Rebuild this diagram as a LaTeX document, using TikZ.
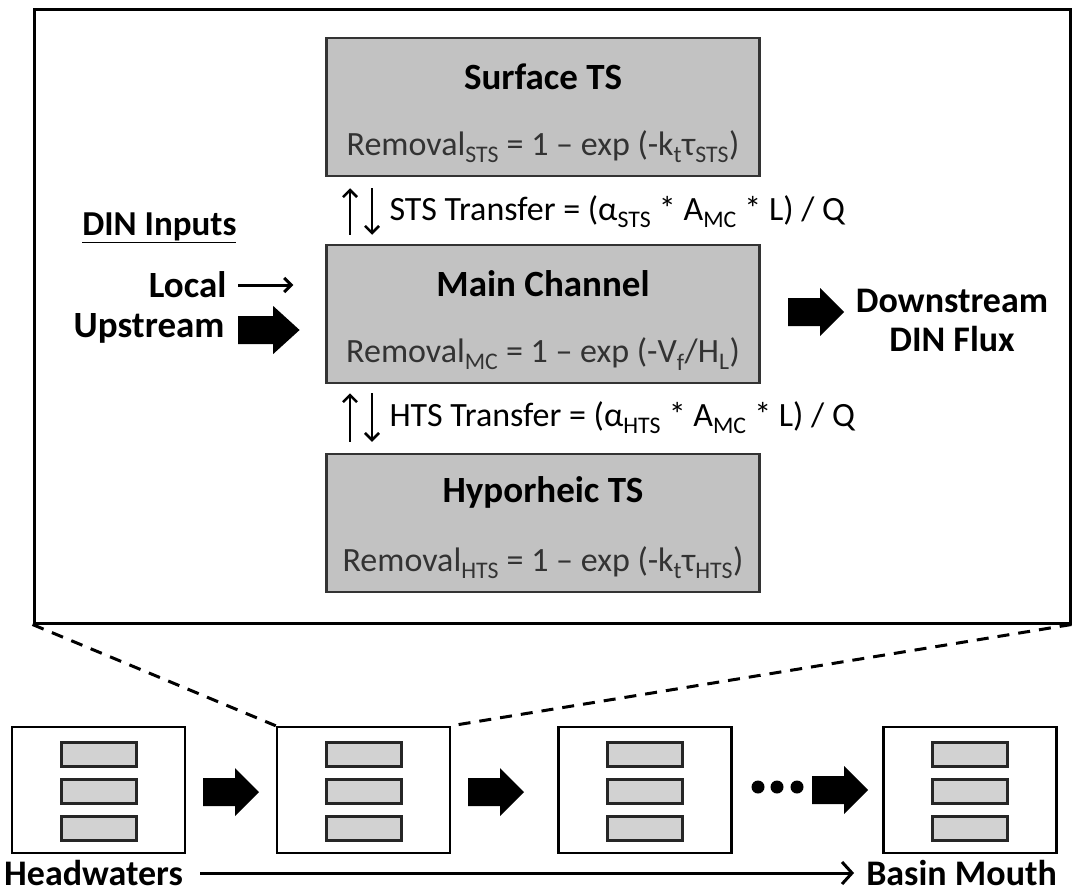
\documentclass[tikz,border=0pt]{standalone}
\usepackage{fontspec}
\setmainfont{Carlito}
\usetikzlibrary{arrows.meta}
\newcommand{\sub}[1]{\textsubscript{#1}}

\begin{document}
\begin{tikzpicture}[x=1pt, y=-1pt,
  zone/.style={draw=black!80, line width=2.5pt, fill=gray!48, minimum width=433pt, minimum height=138pt},
  title/.style={font=\fontsize{37}{40}\selectfont\bfseries},
  eqn/.style={font=\fontsize{34}{38}\selectfont},
  reach/.style={draw, line width=2.5pt, fill=white, minimum width=173pt, minimum height=126pt},
  bar/.style={draw=black!85, line width=3pt, fill=gray!35, minimum width=75pt, minimum height=24pt},
  flux/.style={line width=2.5pt, -{Straight Barb[length=7pt, width=14pt]}},
  fatarrow/.pic={\fill (0,-14) -- (32,-14) -- (32,-24) -- (56,0) -- (32,24) -- (32,14) -- (0,14) -- cycle;}
]
  \useasboundingbox (0,0) rectangle (1077,894);

  % Zoomed reach
  \node[draw, line width=3pt, minimum width=1036pt, minimum height=614pt] (frame) at (552,316) {};

  % Storage zones
  \node[zone] (surf) at (543,107) {};
  \node[zone] (main) at (543,314) {};
  \node[zone] (hyp) at (543,523) {};
  \node[title] (surft) at ([yshift=-40pt]surf.north) {Surface TS};
  \node[eqn, text=black!80] (surfr) at ([yshift=-110pt]surf.north) {Removal\sub{STS} = 1 – exp (-k\sub{t}τ\sub{STS})};
  \node[title] (maint) at ([yshift=-40pt]main.north) {Main Channel};
  \node[eqn, text=black!80] (mainr) at ([yshift=-110pt]main.north) {Removal\sub{MC} = 1 – exp (-V\sub{f}/H\sub{L})};
  \node[title] (hypt) at ([yshift=-40pt]hyp.north) {Hyporheic TS};
  \node[eqn, text=black!80] (hypr) at ([yshift=-110pt]hyp.north) {Removal\sub{HTS} = 1 – exp (-k\sub{t}τ\sub{HTS})};

  % Exchange
  \draw[flux, shorten <=9pt, shorten >=11pt] ([xshift=-193pt]main.north) -- ([xshift=-193pt]surf.south);
  \draw[flux, shorten <=11pt, shorten >=9pt] ([xshift=-171pt]surf.south) -- ([xshift=-171pt]main.north);
  \draw[flux, shorten <=11pt, shorten >=9pt] ([xshift=-193pt]hyp.north) -- ([xshift=-193pt]main.south);
  \draw[flux, shorten <=9pt, shorten >=11pt] ([xshift=-171pt]main.south) -- ([xshift=-171pt]hyp.north);
  \node[eqn, anchor=west] (ststxt) at (386,212) {STS Transfer = (α\sub{STS} * A\sub{MC} * L) / Q};
  \node[eqn, anchor=west] (htstxt) at (386,418) {HTS Transfer = (α\sub{HTS} * A\sub{MC} * L) / Q};

  % Inputs and outputs
  \node[title, font=\fontsize{35}{38}\selectfont\bfseries, anchor=east] (din) at (240,228) {\underline{DIN Inputs}};
  \node[title, anchor=east] (local) at (230,285) {Local};
  \node[title, anchor=east] (upstr) at (228,328) {Upstream};
  \draw[flux, line width=3pt, shorten <=8pt, shorten >=32pt] (local.east) -- (main.west |- local.east);
  \pic[xscale=1.1] at (238,330) {fatarrow};
  \pic at (788,312) {fatarrow};
  \node[title, font=\fontsize{36}{39}\selectfont\bfseries, align=center] (down) at (952,320) {Downstream\\DIN Flux};

  % River network
  \foreach \x [count=\i] in {98.5,363.5,645,970} {
    \node[reach] (r\i) at (\x,790) {};
    \foreach \y [count=\j] in {-36,1,38}
      \node[bar] (r\i b\j) at ([yshift=-\y pt]r\i.center) {};
  }
  \draw[line width=3pt, dash pattern=on 12pt off 9pt] (frame.south west) -- (r2.north west);
  \draw[line width=3pt, dash pattern=on 12pt off 9pt] (frame.south east) -- (r2.north east);
  \pic at (203,792) {fatarrow};
  \pic at (468,792) {fatarrow};
  \foreach \x in {758,777,797}
    \fill (\x,787) circle (6.5);
  \pic at (812,790) {fatarrow};

  % Headwaters to mouth
  \node[title, font=\fontsize{36}{39}\selectfont\bfseries, anchor=west, inner sep=0pt] (head) at (4,873) {Headwaters};
  \node[title, font=\fontsize{36}{39}\selectfont\bfseries, anchor=east, inner sep=0pt] (mouth) at (1057,873) {Basin Mouth};
  \draw[line width=3pt, -{Straight Barb[length=10pt, width=22pt]}, shorten <=17pt, shorten >=12pt] (head.east) -- (mouth.west);
\end{tikzpicture}
\end{document}
